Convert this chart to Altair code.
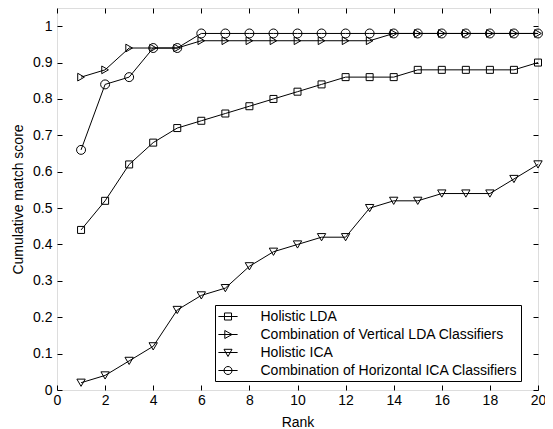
import altair as alt
import pandas as pd

ranks = list(range(1, 21))
series_names = [
    "Holistic LDA",
    "Combination of Vertical LDA Classifiers",
    "Holistic ICA",
    "Combination of Horizontal ICA Classifiers",
]
holistic_lda = [0.44, 0.52, 0.62, 0.68, 0.72, 0.74, 0.76, 0.78, 0.80, 0.82,
                0.84, 0.86, 0.86, 0.86, 0.88, 0.88, 0.88, 0.88, 0.88, 0.90]
vertical_lda = [0.86, 0.88, 0.94, 0.94, 0.94, 0.96, 0.96, 0.96, 0.96, 0.96,
                0.96, 0.96, 0.96, 0.98, 0.98, 0.98, 0.98, 0.98, 0.98, 0.98]
holistic_ica = [0.02, 0.04, 0.08, 0.12, 0.22, 0.26, 0.28, 0.34, 0.38, 0.40,
                0.42, 0.42, 0.50, 0.52, 0.52, 0.54, 0.54, 0.54, 0.58, 0.62]
horizontal_ica = [0.66, 0.84, 0.86, 0.94, 0.94, 0.98, 0.98, 0.98, 0.98, 0.98,
                  0.98, 0.98, 0.98, 0.98, 0.98, 0.98, 0.98, 0.98, 0.98, 0.98]

x_ticks = [0, 2, 4, 6, 8, 10, 12, 14, 16, 18, 20]
y_ticks = [0, 0.1, 0.2, 0.3, 0.4, 0.5, 0.6, 0.7, 0.8, 0.9, 1]

rows = []
for name, vals in zip(series_names, [holistic_lda, vertical_lda, holistic_ica, horizontal_ica]):
    for r, v in zip(ranks, vals):
        rows.append({"series": name, "rank": r, "score": v})
df = pd.DataFrame(rows)

FONT = "Liberation Sans"
xscale = alt.Scale(domain=[0, 20], nice=False, zero=False)
yscale = alt.Scale(domain=[0, 1.05], nice=False, zero=False)

bottom_axis = alt.Axis(values=x_ticks, offset=-5, tickSize=5, domain=False, grid=False,
                       labelPadding=3, labelFont=FONT, labelFontSize=14, labelColor="black",
                       tickColor="black", title="Rank", titleFont=FONT, titleFontSize=14,
                       titleFontWeight="normal", titleColor="black", titlePadding=8,
                       labelFlush=False)
left_axis = alt.Axis(values=y_ticks, offset=-5, tickSize=5, domain=False, grid=False,
                     labelPadding=5, labelFont=FONT, labelFontSize=14, labelColor="black",
                     tickColor="black", format="~g", title="Cumulative match score",
                     titleFont=FONT, titleFontSize=14, titleFontWeight="normal",
                     titleColor="black", titlePadding=7, labelFlush=False)
top_axis = alt.Axis(values=x_ticks, orient="top", offset=-5, tickSize=5, domain=False,
                    grid=False, labels=False, title=None, tickColor="black")
right_axis = alt.Axis(values=y_ticks, orient="right", offset=-5, tickSize=5, domain=False,
                      grid=False, labels=False, title=None, tickColor="black")

lines = alt.Chart(df).mark_line(color="black", strokeWidth=1).encode(
    x=alt.X("rank:Q", scale=xscale, axis=bottom_axis),
    y=alt.Y("score:Q", scale=yscale, axis=left_axis),
    detail="series:N",
)

frame_ticks = alt.Chart(df).mark_point(opacity=0).encode(
    x=alt.X("rank:Q", scale=xscale, axis=top_axis),
    y=alt.Y("score:Q", scale=yscale, axis=right_axis),
)

points = alt.Chart(df).mark_point(filled=False, color="black", strokeWidth=1, opacity=1).encode(
    x=alt.X("rank:Q", scale=xscale, axis=None),
    y=alt.Y("score:Q", scale=yscale, axis=None),
    shape=alt.Shape("series:N", scale=alt.Scale(domain=series_names,
                    range=["square", "triangle-right", "triangle-down", "circle"]), legend=None),
    size=alt.Size("series:N", scale=alt.Scale(domain=series_names, range=[49, 80, 75, 70]),
                  legend=None),
)

legend_paths = [
    "M-1.2,0L1.2,0M-0.44,-0.44L0.44,-0.44L0.44,0.44L-0.44,0.44Z",
    "M-1.2,0L1.2,0M-0.4,-0.5L0.5,0L-0.4,0.5Z",
    "M-1.2,0L1.2,0M-0.5,-0.4L0.5,-0.4L0,0.5Z",
    "M-1.2,0L1.2,0M0.5,0A0.5,0.5,0,1,1,-0.5,0A0.5,0.5,0,1,1,0.5,0Z",
]

legend_layer = alt.Chart(df).transform_filter("false").mark_point(
    filled=False, color="black", strokeWidth=1, opacity=1
).encode(
    x=alt.X("rank:Q", scale=xscale, axis=None),
    y=alt.Y("score:Q", scale=yscale, axis=None),
    shape=alt.Shape(
        "series:N",
        scale=alt.Scale(domain=series_names, range=legend_paths),
        legend=alt.Legend(
            title=None, orient="none", legendX=158, legendY=297,
            strokeColor="black", fillColor="white", padding=3, rowPadding=2,
            labelOffset=24, symbolOffset=1.5, labelFont=FONT, labelFontSize=14,
            labelColor="black", symbolSize=256, symbolStrokeColor="black",
            symbolStrokeWidth=1, symbolFillColor="transparent", labelLimit=400,
        ),
    ),
)

chart = alt.layer(lines, frame_ticks, points, legend_layer).resolve_axis(
    x="independent", y="independent"
).resolve_scale(shape="independent", size="independent").properties(
    width=481, height=382,
    autosize=alt.AutoSizeParams(type="none"),
    padding={"left": 49, "top": 0, "right": 7, "bottom": 39},
).configure_view(stroke="black", strokeWidth=1).configure(background="white")

chart.save("out.html", embed_options={"renderer": "svg", "actions": False})
